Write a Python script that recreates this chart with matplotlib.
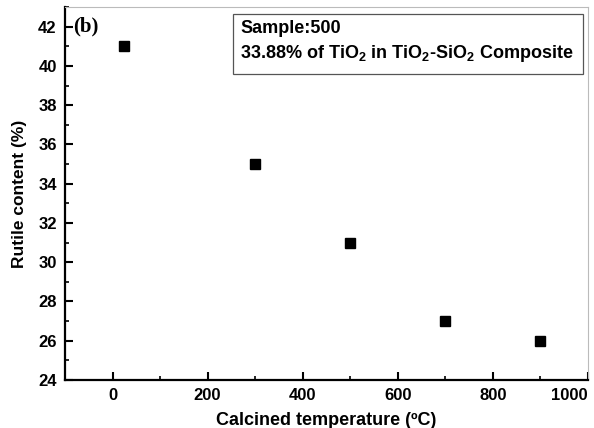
import matplotlib
matplotlib.use("Agg")
import matplotlib.pyplot as plt
from matplotlib.ticker import MultipleLocator
from matplotlib.patches import Rectangle

temperature = [25, 300, 500, 700, 900]
rutile = [41, 35, 31, 27, 26]

plt.rcParams['font.family'] = ['Liberation Sans', 'DejaVu Sans']
plt.rcParams['mathtext.fontset'] = 'custom'
plt.rcParams['mathtext.bf'] = 'Liberation Sans:bold'
plt.rcParams['mathtext.rm'] = 'Liberation Sans'

fig = plt.figure(figsize=(5.94, 4.28), dpi=100)
ax = fig.add_axes([0.1094, 0.1121, 0.8805, 0.8715])
ax.plot(temperature, rutile, linestyle='none', marker='s', color='black', markersize=6.5)

ax.set_xlim(-100, 1000)
ax.set_ylim(24, 43)
ax.xaxis.set_major_locator(MultipleLocator(200))
ax.xaxis.set_minor_locator(MultipleLocator(100))
ax.yaxis.set_major_locator(MultipleLocator(2))
ax.yaxis.set_minor_locator(MultipleLocator(1))
ax.tick_params(which='major', direction='in', length=6, width=1.5, labelsize=12, pad=6)
ax.tick_params(which='minor', direction='in', length=3, width=1.2)
fig.canvas.draw()
for lab in ax.get_xticklabels() + ax.get_yticklabels():
    lab.set_fontweight('bold')
for lab in ax.get_xticklabels():
    if lab.get_text() == '1000':
        lab.set_horizontalalignment('right')

for s in ['left', 'bottom']:
    ax.spines[s].set_linewidth(1.6)
    ax.spines[s].set_color('black')
for s in ['top', 'right']:
    ax.spines[s].set_linewidth(0.8)
    ax.spines[s].set_color('#bbbbbb')

ax.set_xlabel('Calcined temperature (ºC)', fontsize=13, fontweight='bold', labelpad=6)
ax.set_ylabel('Rutile content (%)', fontsize=12.5, fontweight='bold', labelpad=8)

ax.text(0.015, 0.975, '(b)', transform=ax.transAxes, fontsize=15, fontweight='bold',
        family=['Liberation Serif'], va='top', ha='left')

ax.add_patch(Rectangle((0.3207, 0.8196), 0.6692, 0.1608, transform=ax.transAxes,
                       facecolor='white', edgecolor='#555555', linewidth=0.9, zorder=3))
ax.text(0.3346, 0.9303, 'Sample:500', transform=ax.transAxes, fontsize=13,
        fontweight='bold', va='baseline', ha='left', zorder=4)
ax.text(0.3346, 0.8633,
        r'33.88% of TiO$_\mathbf{2}$ in TiO$_\mathbf{2}$-SiO$_\mathbf{2}$ Composite',
        transform=ax.transAxes, fontsize=13, fontweight='bold', va='baseline', ha='left',
        zorder=4)

fig.savefig('out.png', dpi=100)
